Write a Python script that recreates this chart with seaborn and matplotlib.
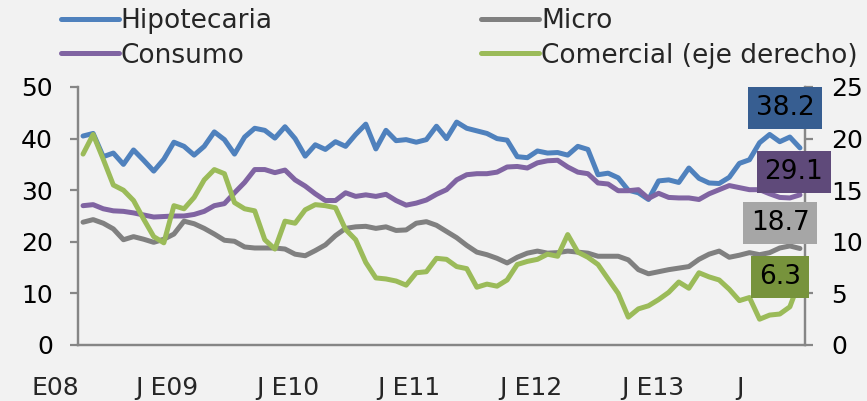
import numpy as np
import seaborn as sns
import matplotlib.pyplot as plt
from matplotlib.lines import Line2D
import matplotlib.transforms as mtransforms

# monthly series, Jan 2008 - Dec 2013
hipotecaria = [40.5, 41.0, 36.5, 37.2, 35.0, 37.8, 35.8, 33.7, 36.0, 39.3,
               38.5, 36.8, 38.5, 41.3, 39.8, 37.0, 40.3, 42.0, 41.6, 40.1,
               42.3, 40.0, 36.6, 38.8, 37.9, 39.4, 38.5, 40.8, 42.8, 38.0,
               41.6, 39.6, 39.8, 39.3, 39.8, 42.4, 40.0, 43.2, 42.0, 41.5,
               41.0, 40.0, 39.7, 36.5, 36.3, 37.6, 37.2, 37.3, 36.8, 38.5,
               37.9, 33.0, 33.3, 32.4, 30.0, 29.5, 28.2, 31.8, 32.0, 31.5,
               34.3, 32.3, 31.4, 31.3, 32.5, 35.2, 35.9, 39.2, 40.8, 39.4,
               40.3, 38.2]
consumo = [27.0, 27.2, 26.4, 26.0, 25.9, 25.6, 25.2, 24.8, 24.9, 25.0,
           25.0, 25.3, 25.9, 27.0, 27.4, 29.5, 31.5, 34.0, 34.0, 33.4,
           33.9, 32.0, 30.8, 29.3, 28.0, 28.0, 29.5, 28.8, 29.1, 28.8,
           29.2, 28.0, 27.1, 27.5, 28.1, 29.2, 30.1, 32.0, 33.0, 33.2,
           33.2, 33.5, 34.5, 34.6, 34.3, 35.3, 35.7, 35.8, 34.5, 33.5,
           33.2, 31.4, 31.2, 29.9, 29.9, 30.1, 28.4, 29.4, 28.6, 28.5,
           28.5, 28.2, 29.3, 30.1, 30.9, 30.5, 30.1, 30.1, 29.3, 28.6,
           28.5, 29.1]
micro = [23.8, 24.3, 23.6, 22.5, 20.4, 21.0, 20.5, 19.9, 20.5, 21.5,
         24.0, 23.5, 22.6, 21.5, 20.3, 20.1, 19.0, 18.8, 18.8, 18.8,
         18.6, 17.6, 17.3, 18.3, 19.4, 21.2, 22.6, 22.9, 23.0, 22.6,
         22.9, 22.2, 22.3, 23.6, 23.9, 23.2, 22.0, 20.8, 19.3, 18.0,
         17.5, 16.8, 15.9, 17.0, 17.8, 18.2, 17.8, 17.9, 18.2, 18.0,
         17.8, 17.2, 17.2, 17.2, 16.5, 14.6, 13.8, 14.2, 14.6, 14.9,
         15.2, 16.6, 17.6, 18.2, 17.0, 17.4, 17.9, 17.5, 17.9, 18.8,
         19.2, 18.7]
comercial = [18.5, 20.4, 18.0, 15.5, 15.0, 14.0, 12.2, 10.5, 9.9, 13.5,
             13.2, 14.3, 16.0, 17.0, 16.6, 13.8, 13.2, 13.0, 10.2, 9.3,
             12.0, 11.8, 13.1, 13.6, 13.5, 13.3, 11.2, 10.2, 8.0, 6.5,
             6.4, 6.2, 5.8, 7.0, 7.1, 8.4, 8.3, 7.6, 7.4, 5.6,
             5.9, 5.7, 6.3, 7.8, 8.1, 8.3, 8.8, 8.6, 10.7, 9.0,
             8.5, 7.8, 6.4, 5.0, 2.7, 3.5, 3.8, 4.4, 5.1, 6.1,
             5.5, 7.0, 6.6, 6.3, 5.4, 4.3, 4.6, 2.5, 2.9, 3.0,
             3.7, 6.3]

x_labels = ["E08", "J E09", "J E10", "J E11", "J E12", "J E13", "J"]
x_label_pos = [-2.7, 8.3, 20.3, 32.3, 44.4, 56.4, 65.1]

c_hip, c_mic, c_con, c_com = "#4F81BD", "#808080", "#8064A2", "#9BBB59"
bg = "#F2F2F2"
axis_col = "#868686"

sns.set_style("white")
plt.rcParams['font.family'] = ['DejaVu Sans']

fig = plt.figure(figsize=(8.67, 4.01), dpi=100, facecolor=bg)
ax = fig.add_axes([78 / 867, 1 - 345 / 401, (805 - 78) / 867, (345 - 87) / 401])
ax.set_facecolor("none")
ax2 = ax.twinx()

months = np.arange(len(hipotecaria))
lw = 3.6
for y, c in [(hipotecaria, c_hip), (consumo, c_con), (micro, c_mic)]:
    sns.lineplot(x=months, y=y, ax=ax, color=c, lw=lw, solid_joinstyle="round",
                 solid_capstyle="round")
sns.lineplot(x=months, y=comercial, ax=ax2, color=c_com, lw=lw,
             solid_joinstyle="round", solid_capstyle="round")

ax.set_xlim(-0.5, len(months) - 0.5)
ax.set_ylim(0, 50)
ax2.set_ylim(0, 25)
ax.set_yticks(range(0, 51, 10))
ax2.set_yticks(range(0, 26, 5))
ax.set_xticks(np.arange(-0.5, len(months), 3))
ax.set_xticklabels([])

for a in (ax, ax2):
    for s in a.spines.values():
        s.set_color(axis_col)
        s.set_linewidth(1.6)
    a.spines["top"].set_visible(False)
    a.set_ylabel("")
    a.set_xlabel("")
    a.tick_params(colors=axis_col, width=1.6, length=6, labelsize=18,
                  labelcolor="black")
ax.tick_params(axis="y", pad=12)
ax2.tick_params(axis="y", pad=13)
ax.tick_params(axis="x", length=6, direction="out")

trans = mtransforms.blended_transform_factory(ax.transData, ax.transAxes)
for lab, pos in zip(x_labels, x_label_pos):
    ax.text(pos, -0.167, lab, transform=trans, ha="center", va="center",
            fontsize=18)

# legend
handles = [Line2D([], [], color=c_hip, lw=lw), Line2D([], [], color=c_con, lw=lw),
           Line2D([], [], color=c_mic, lw=lw), Line2D([], [], color=c_com, lw=lw)]
labels = ["Hipotecaria", "Consumo", "Micro", "Comercial (eje derecho)"]
fig.legend(handles, labels, loc="upper left", bbox_to_anchor=(50 / 867, 1.006),
           ncol=2, frameon=False, fontsize=19, handlelength=2.2,
           handletextpad=0.08, columnspacing=7.9, labelspacing=0.32,
           borderaxespad=0)

# end-value boxes
boxes = [(f"{hipotecaria[-1]:.1f}", "#375E91", 785, 108),
         (f"{consumo[-1]:.1f}", "#5F4A7A", 794, 172),
         (f"{micro[-1]:.1f}", "#A6A6A6", 780, 223),
         (f"{comercial[-1]:.1f}", "#77933C", 780, 277)]
for txt, col, px, py in boxes:
    fig.text(px / 867, 1 - py / 401, txt, ha="center", va="center", fontsize=19,
             color="black", zorder=10,
             bbox=dict(boxstyle="square,pad=0.3", fc=col, ec="none"))

fig.savefig("out.png", dpi=100, facecolor=bg)
